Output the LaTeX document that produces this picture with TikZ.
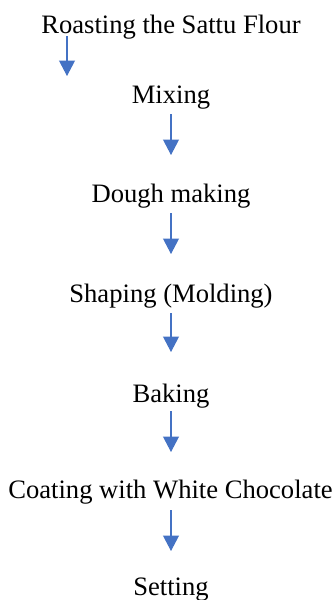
\documentclass[tikz,border=0pt]{standalone}
\usepackage{fontspec}
\setmainfont{Liberation Serif}
\usetikzlibrary{arrows.meta}
\definecolor{flowblue}{HTML}{4472C4}
\tikzset{
  stage/.style={anchor=base, inner sep=0pt, font=\fontsize{26.6}{32}\selectfont},
  flow/.style={draw=flowblue, line width=1.1pt,
    -{Triangle[length=15.5pt, width=16pt, fill=flowblue]}}
}
\begin{document}
\begin{tikzpicture}[x=1pt, y=-1pt]
\useasboundingbox (0,0) rectangle (335,600);
% process stages, top to bottom
\node[stage] (roast) at (171,33)  {Roasting the Sattu Flour};
\node[stage] (mix)   at (171,103) {Mixing};
\node[stage] (dough) at (171,202) {Dough making};
\node[stage] (shape) at (171,302) {Shaping (Molding)};
\node[stage] (bake)  at (171,402) {Baking};
\node[stage] (coat)  at (170.5,498) {Coating with White Chocolate};
\node[stage] (set)   at (171,595.5) {Setting};
% arrow end points between the stages
\coordinate (r1) at (67,36);   \coordinate (m1) at (67,76);
\coordinate (m2) at (171,114); \coordinate (d2) at (171,155);
\coordinate (d3) at (171,213); \coordinate (s3) at (171,254);
\coordinate (s4) at (171,313); \coordinate (b4) at (171,352);
\coordinate (b5) at (171,411); \coordinate (c5) at (171,452);
\coordinate (c6) at (171,510); \coordinate (t6) at (171,551);
\draw[flow] (r1) -- (m1);
\draw[flow] (m2) -- (d2);
\draw[flow] (d3) -- (s3);
\draw[flow] (s4) -- (b4);
\draw[flow] (b5) -- (c5);
\draw[flow] (c6) -- (t6);
\end{tikzpicture}
\end{document}
